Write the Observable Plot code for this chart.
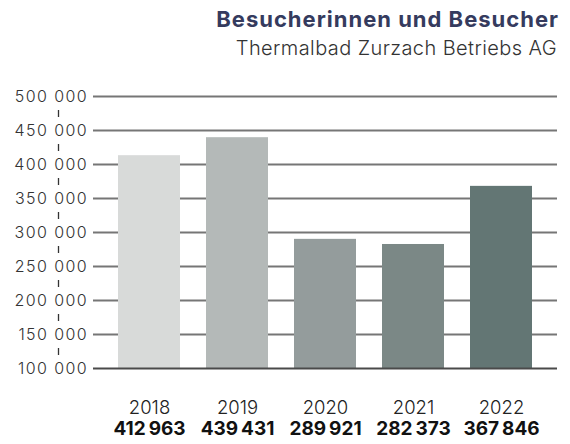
<!DOCTYPE html>
<html><head><meta charset="utf-8">
<script src="https://cdn.jsdelivr.net/npm/d3@7"></script>
<script src="https://cdn.jsdelivr.net/npm/@observablehq/plot@0.6"></script>
<style>
body{margin:0;background:#fff;font-family:Inter,Lato,sans-serif;}
#wrap{position:relative;width:570px;height:444px;overflow:hidden;}
#title{position:absolute;right:11px;top:6px;font-size:22px;font-weight:700;color:#353b5e;white-space:nowrap;letter-spacing:1px;}
#subtitle{position:absolute;right:13px;top:36px;font-size:20px;font-weight:300;color:#333;white-space:nowrap;letter-spacing:0.4px;}
#chart{position:absolute;left:0;top:80px;}
</style></head><body>
<div id="wrap">
<div id="title">Besucherinnen und Besucher</div>
<div id="subtitle">Thermalbad Zurzach Betriebs AG</div>
<div id="chart"></div>
</div>
<script>
const years = ["2018", "2019", "2020", "2021", "2022"];
const visitors = [412963, 439431, 289921, 282373, 367846];
const barColors = ["#d8dad9", "#b4b9b8", "#949c9c", "#7b8886", "#637674"];
const yTicks = [100000, 150000, 200000, 250000, 300000, 350000, 400000, 450000, 500000];

const data = years.map((y, i) => ({year: y, value: visitors[i], color: barColors[i]}));
const yMinor = d3.pairs(yTicks).map(([a, b]) => (a + b) / 2);
const tickFmt = d3.formatLocale({decimal: ",", thousands: " ", grouping: [3], currency: ["", ""]}).format(",");
const valFmt = d3.formatLocale({decimal: ",", thousands: "\u2009", grouping: [3], currency: ["", ""]}).format(",");
const font = "Inter, Lato, sans-serif";
const vbar = {draw(ctx, size) { const h = Math.sqrt(size / Math.PI); ctx.moveTo(0, -h); ctx.lineTo(0, h); }};

const chart = Plot.plot({
  width: 570,
  height: 364,
  marginLeft: 91,
  marginRight: 11,
  marginTop: 16,
  marginBottom: 76,
  style: {fontFamily: font, background: "#fff"},
  x: {domain: years, padding: 0.3, axis: null},
  y: {domain: [100000, 500000], axis: null},
  color: {type: "identity"},
  marks: [
    Plot.ruleY(yTicks.slice(1), {stroke: "#767676", strokeWidth: 2, insetLeft: 2, insetRight: 2}),
    Plot.barY(data, {x: "year", y1: () => 100000, y2: "value", fill: "color"}),
    Plot.ruleY([100000], {stroke: "#4a4a4a", strokeWidth: 2, insetLeft: 2, insetRight: 2}),
    Plot.text(yTicks, {ariaDescription: "y-labels", y: d => d, text: d => tickFmt(d), frameAnchor: "left", textAnchor: "end", dx: -3.5, fontSize: 16, fontWeight: 300, fill: "#333"}),
    Plot.dot(yMinor, {y: d => d, frameAnchor: "left", dx: -33, r: 3.5, symbol: vbar, stroke: "#333", strokeWidth: 1.3, fill: "none"}),
    Plot.text(data, {x: "year", text: "year", frameAnchor: "bottom", lineAnchor: "middle", dy: 40, fontSize: 18.5, fontWeight: 300, fill: "#222"}),
    Plot.text(data, {x: "year", text: d => valFmt(d.value), frameAnchor: "bottom", lineAnchor: "middle", dy: 60, fontSize: 19, fontWeight: 700, fill: "#111"})
  ]
});
d3.select(chart).selectAll('g[aria-description="y-labels"] text').style("letter-spacing", "1.4px");
document.getElementById("chart").appendChild(chart);
</script>
</body></html>
